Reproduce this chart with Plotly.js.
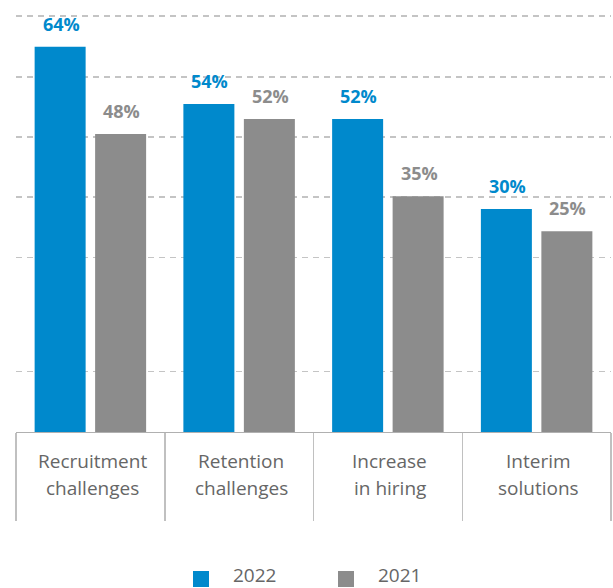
<!DOCTYPE html>
<html>
<head>
<meta charset="utf-8">
<script src="https://cdn.plot.ly/plotly-3.0.1.min.js"></script>
<style>
html,body{margin:0;padding:0;background:#fff;}
#chart{width:613px;height:588px;}
</style>
</head>
<body>
<div id="chart"></div>
<script>
// Categories (two-line labels)
var categories = ["Recruitment<br>challenges", "Retention<br>challenges", "Increase<br>in hiring", "Interim<br>solutions"];
var seriesNames = ["2022", "2021"];
// Printed percentage labels
var labels2022 = ["64%", "54%", "52%", "30%"];
var labels2021 = ["48%", "52%", "35%", "25%"];
// Bar heights as drawn in the picture (hidden value axis)
var heights2022 = [63.9, 54.4, 51.9, 37.0];
var heights2021 = [49.4, 51.9, 39.1, 33.3];
// Dashed guide lines as drawn
var gridVals = [10, 28.9, 39, 48.9, 58.9, 69];

var BLUE = "#0089CC", GRAY = "#8C8C8C", TEXT = "#666666";
var FONT = "Open Sans, sans-serif";
var colors = [BLUE, GRAY];

var traces = [
  {type: "bar", name: seriesNames[0], x: categories, y: heights2022,
   marker: {color: BLUE}, hoverinfo: "none", showlegend: false},
  {type: "bar", name: seriesNames[1], x: categories, y: heights2021,
   marker: {color: GRAY}, hoverinfo: "none", showlegend: false}
];

var annotations = [];
var shapes = [];
var SLOT = 30.25;
categories.forEach(function(c, i){
  annotations.push({x: c, y: heights2022[i], xref: "x", yref: "y", text: labels2022[i],
    showarrow: false, xshift: -SLOT + 1, yshift: 23, yanchor: "middle",
    font: {family: FONT, size: 18, color: BLUE, weight: 700}});
  annotations.push({x: c, y: heights2021[i], xref: "x", yref: "y", text: labels2021[i],
    showarrow: false, xshift: SLOT + 1, yshift: 23, yanchor: "middle",
    font: {family: FONT, size: 18, color: GRAY, weight: 700}});
  var lines = c.split("<br>");
  lines.forEach(function(t, k){
    annotations.push({x: c, y: 0, xref: "x", yref: "paper", text: t, showarrow: false,
      yanchor: "middle", xshift: 2, yshift: -29 - 27*k,
      font: {family: FONT, size: 19, color: TEXT}});
  });
});

// Custom legend (pixel layout converted to paper coordinates)
var PL = 16, PW = 595, PH = 432;
function px2x(p){ return (p - PL) / PW; }
function py2y(p){ return (PH - p) / PH; }
seriesNames.forEach(function(n, k){
  var x0 = 193 + 145 * k;
  shapes.push({type: "rect", xref: "paper", yref: "paper",
    x0: px2x(x0), x1: px2x(x0 + 16), y0: py2y(587), y1: py2y(571),
    fillcolor: colors[k], line: {width: 0}, layer: "above"});
  annotations.push({xref: "paper", yref: "paper", x: px2x(x0 + 38), y: py2y(575),
    xanchor: "left", yanchor: "middle", text: n, showarrow: false,
    font: {family: FONT, size: 19, color: TEXT}});
});

var layout = {
  width: 613, height: 588,
  margin: {l: 16, r: 2, t: 0, b: 156, pad: 0},
  paper_bgcolor: "#fff", plot_bgcolor: "#fff",
  barmode: "group", bargap: 0.1866, bargroupgap: 0.157,
  font: {family: FONT, color: TEXT},
  xaxis: {type: "category", showgrid: false, showline: true, linecolor: "#B0B0B0", linewidth: 1,
    ticks: "outside", tickson: "boundaries", ticklen: 88, tickcolor: "#C0C0C0", tickwidth: 1.5,
    showticklabels: false, zeroline: false, fixedrange: true},
  yaxis: {range: [0, 71.64], tickvals: gridVals, showticklabels: false, showgrid: true,
    gridcolor: "#C4C4C4", gridwidth: 1.5, griddash: "6px,5px", zeroline: false, showline: false,
    fixedrange: true},
  showlegend: false,
  shapes: shapes,
  annotations: annotations
};

Plotly.newPlot("chart", traces, layout, {displayModeBar: false, staticPlot: true});
</script>
</body>
</html>
